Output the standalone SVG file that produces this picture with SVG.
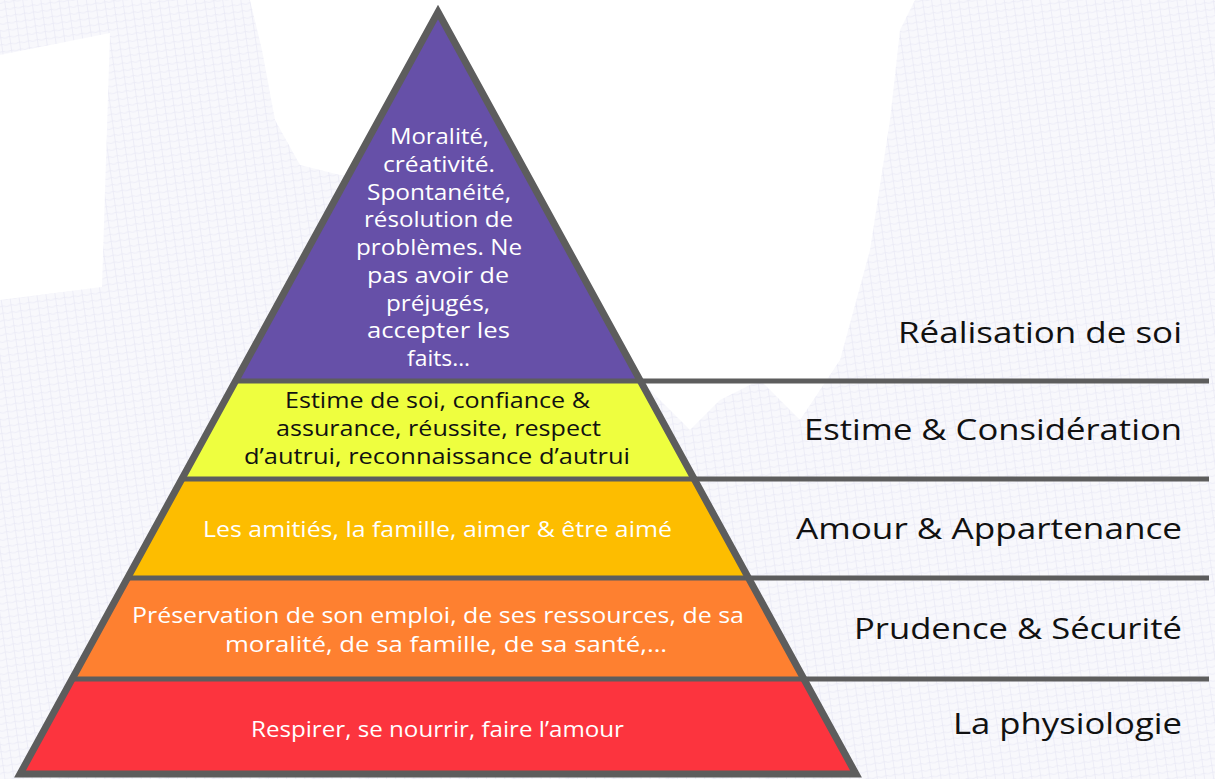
<svg xmlns="http://www.w3.org/2000/svg" width="1215" height="779" viewBox="0 0 1215 779">
<defs>
<pattern id="mesh" width="9" height="7" patternUnits="userSpaceOnUse" patternTransform="rotate(-8)">
<rect width="9" height="7" fill="#f8f8fc"/>
<path d="M0,3.5 Q4.5,1 9,3.5 M4.5,0 L4.5,7" fill="none" stroke="#e6e6f3" stroke-width="0.6"/>
</pattern>
<style>
.sep{stroke:#5d5d5d;stroke-width:5;fill:none}
.outline{fill:none;stroke:#5d5d5d;stroke-width:7;stroke-linejoin:miter}
.in{font-family:"Open Sans","Noto Sans",sans-serif;font-size:21px;text-anchor:middle}
.w{fill:#ffffff}
.k{fill:#111111}
.lab{font-family:"Open Sans","Noto Sans",sans-serif;font-size:29.5px;text-anchor:end;fill:#111111}
</style>
</defs>
<rect width="1215" height="779" fill="#ffffff"/>
<g id="background">
<path fill="url(#mesh)" fill-rule="evenodd" d="M0,0 L250,0 L262,50 L275,120 L300,165 L340,175 L438,175 L600,300 L640,380 L690,430 L720,400 L760,380 L800,420 L840,360 L870,250 L890,120 L900,30 L915,0 L1215,0 L1215,779 L0,779 Z M0,55 L110,33 L102,287 L0,300 Z"/>
</g>
<g id="layer-realisation">
<polygon points="438,12 640.4,381 235.6,381" fill="#6650a8"/>
<text class="in w" x="439.5" y="144" textLength="99" lengthAdjust="spacingAndGlyphs">Moralité,</text>
<text class="in w" x="439" y="172" textLength="112" lengthAdjust="spacingAndGlyphs">créativité.</text>
<text class="in w" x="439" y="199.5" textLength="144" lengthAdjust="spacingAndGlyphs">Spontanéité,</text>
<text class="in w" x="438.5" y="227" textLength="149" lengthAdjust="spacingAndGlyphs">résolution de</text>
<text class="in w" x="439" y="255" textLength="166" lengthAdjust="spacingAndGlyphs">problèmes. Ne</text>
<text class="in w" x="438" y="283" textLength="142" lengthAdjust="spacingAndGlyphs">pas avoir de</text>
<text class="in w" x="438" y="310.5" textLength="104" lengthAdjust="spacingAndGlyphs">préjugés,</text>
<text class="in w" x="438.5" y="338" textLength="143" lengthAdjust="spacingAndGlyphs">accepter les</text>
<text class="in w" x="438.5" y="366" textLength="63" lengthAdjust="spacingAndGlyphs">faits…</text>
</g>
<g id="layer-estime">
<polygon points="235.6,381 640.4,381 694.2,479 181.8,479" fill="#eefe3f"/>
<text class="in k" x="437.5" y="408" textLength="305" lengthAdjust="spacingAndGlyphs">Estime de soi, confiance &amp;</text>
<text class="in k" x="438.5" y="436" textLength="325" lengthAdjust="spacingAndGlyphs">assurance, réussite, respect</text>
<text class="in k" x="437" y="464" textLength="386" lengthAdjust="spacingAndGlyphs">d’autrui, reconnaissance d’autrui</text>
</g>
<g id="layer-amour">
<polygon points="181.8,479 694.2,479 748.5,578 127.5,578" fill="#fdbd00"/>
<text class="in w" x="437.5" y="537" textLength="469" lengthAdjust="spacingAndGlyphs">Les amitiés, la famille, aimer &amp; être aimé</text>
</g>
<g id="layer-securite">
<polygon points="127.5,578 748.5,578 803.9,679 72.1,679" fill="#fe8030"/>
<text class="in w" x="438" y="623" textLength="612" lengthAdjust="spacingAndGlyphs">Préservation de son emploi, de ses ressources, de sa</text>
<text class="in w" x="446" y="652" textLength="442" lengthAdjust="spacingAndGlyphs">moralité, de sa famille, de sa santé,…</text>
</g>
<g id="layer-physiologie">
<polygon points="72.1,679 803.9,679 856,774 20,774" fill="#fc343e"/>
<text class="in w" x="437.5" y="737" textLength="373" lengthAdjust="spacingAndGlyphs">Respirer, se nourrir, faire l’amour</text>
</g>
<g id="connectors">
<line class="sep" x1="235.6" y1="381" x2="1209" y2="381"/>
<line class="sep" x1="181.8" y1="479" x2="1209" y2="479"/>
<line class="sep" x1="127.5" y1="578" x2="1209" y2="578"/>
<line class="sep" x1="72.1" y1="679" x2="1209" y2="679"/>
<polygon class="outline" points="438,12 856,774 20,774"/>
</g>
<g id="labels">
<text class="lab" x="1182" y="343" textLength="284" lengthAdjust="spacingAndGlyphs">Réalisation de soi</text>
<text class="lab" x="1182" y="440" textLength="378" lengthAdjust="spacingAndGlyphs">Estime &amp; Considération</text>
<text class="lab" x="1182" y="539" textLength="386" lengthAdjust="spacingAndGlyphs">Amour &amp; Appartenance</text>
<text class="lab" x="1182" y="639" textLength="328" lengthAdjust="spacingAndGlyphs">Prudence &amp; Sécurité</text>
<text class="lab" x="1182" y="734" textLength="229" lengthAdjust="spacingAndGlyphs">La physiologie</text>
</g>
</svg>
